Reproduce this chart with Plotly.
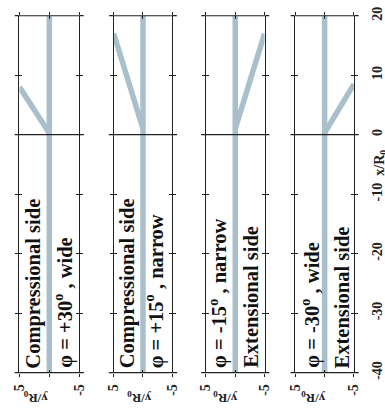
import plotly.graph_objects as go

W, H = 385, 419

# ---- data -------------------------------------------------------------
case_labels = ["φ = +30<sup>o</sup> , wide", "φ = +15<sup>o</sup> , narrow",
               "φ = -15<sup>o</sup> , narrow", "φ = -30<sup>o</sup> , wide"]
side_labels = ["Compressional side", "Compressional side",
               "Extensional side", "Extensional side"]

lateral_range = [5, -5]      # y/R0 (drawn horizontally, reversed)
axial_range = [-40, 20]      # x/R0 (drawn vertically)

centre_lat = 0               # main branch runs along y/R0 = 0
branch_lat_end = [5, 5, -5, -5]
branch_ax_start = [0.3, 1.0, 1.0, 0.3]
branch_ax_end = [8.0, 17.0, 17.0, 8.5]

axial_ticks = [20, 10, 0, -10, -20, -30, -40]
axial_tick_text = ["20", "10", "0", "-10", "-20", "-30", "-40"]
lateral_ticks = [5, 0, -5]
lateral_tick_text = ["5", "", "-5"]
frame_axial = [20, 0, -40]

# ---- layout helpers ---------------------------------------------------
panel_px = [(13, 75), (111, 172), (207, 268), (300, 361)]
top_px, bottom_px = 7, 378
ydom = [1 - bottom_px / H, 1 - top_px / H]
label_lat = [(2.65, -2.4), (2.7, -1.9), (2.9, -2.8), (2.4, -3.0)]
axis_title_px = [29, 137, 227, 318]

LINE = "#a9bfcb"
INK = "#222222"
FONT = "Liberation Serif"

fig = go.Figure()
layout = dict(width=W, height=H, margin=dict(l=0, r=0, t=0, b=0),
              paper_bgcolor="white", plot_bgcolor="white", showlegend=False)
shapes, annotations = [], []

for i in range(4):
    n = i + 1
    m = n + 4
    xa = "x" if n == 1 else f"x{n}"
    ya = "y" if n == 1 else f"y{n}"
    l, r = panel_px[i]

    fig.add_trace(go.Scatter(x=[centre_lat, centre_lat], y=axial_range, mode="lines",
                             line=dict(color=LINE, width=5.5), xaxis=xa, yaxis=ya,
                             hoverinfo="skip"))
    fig.add_trace(go.Scatter(x=[centre_lat, branch_lat_end[i]],
                             y=[branch_ax_start[i], branch_ax_end[i]], mode="lines",
                             line=dict(color=LINE, width=5.5), xaxis=xa, yaxis=ya,
                             hoverinfo="skip"))
    # carrier trace for the inner-tick overlay axes
    fig.add_trace(go.Scatter(x=[None], y=[None], mode="lines", xaxis=f"x{m}",
                             yaxis=f"y{m}", hoverinfo="skip"))

    tickfont = dict(family=FONT, size=14, color=INK, weight="bold")
    layout["xaxis" if n == 1 else f"xaxis{n}"] = dict(
        domain=[l / W, r / W], range=lateral_range, anchor=ya,
        tickmode="array", tickvals=lateral_ticks, ticktext=lateral_tick_text,
        tickangle=-90, ticks="outside", ticklen=3, tickcolor=INK, tickwidth=1.2,
        ticklabelstandoff=2, ticklabeloverflow="allow",
        mirror="ticks", showline=False, showgrid=False, zeroline=False,
        tickfont=tickfont, fixedrange=True)
    layout["yaxis" if n == 1 else f"yaxis{n}"] = dict(
        domain=ydom, range=axial_range, anchor=xa,
        side="right" if n == 4 else "left",
        tickmode="array", tickvals=axial_ticks, ticktext=axial_tick_text,
        showticklabels=(n == 4), tickangle=-90, ticklabelstandoff=7,
        ticklabeloverflow="allow",
        ticks="outside", ticklen=3, tickcolor=INK, tickwidth=1.2,
        mirror="ticks", showline=True, linecolor=INK, linewidth=1.2,
        showgrid=False, zeroline=False, tickfont=tickfont, fixedrange=True)
    layout[f"xaxis{m}"] = dict(
        overlaying=xa, range=lateral_range, anchor=f"y{m}",
        tickmode="array", tickvals=lateral_ticks, ticks="inside", ticklen=3,
        tickcolor=INK, tickwidth=1.2, mirror="ticks", showticklabels=False,
        showline=False, showgrid=False, zeroline=False, fixedrange=True)
    layout[f"yaxis{m}"] = dict(
        overlaying=ya, range=axial_range, anchor=f"x{m}",
        tickmode="array", tickvals=axial_ticks, ticks="inside", ticklen=3,
        tickcolor=INK, tickwidth=1.2, mirror="ticks", showticklabels=False,
        showline=False, showgrid=False, zeroline=False, fixedrange=True)

    # frame lines across the panel, running slightly past its sides
    ext = 5 / (r - l)
    for v in frame_axial:
        fy = (v - axial_range[0]) / (axial_range[1] - axial_range[0])
        shapes.append(dict(type="line", xref=f"{xa} domain", yref=f"{ya} domain",
                           x0=-ext, x1=1 + ext, y0=fy, y1=fy,
                           line=dict(color=INK, width=1.2), layer="above"))

    # rotated panel labels
    if n <= 2:
        texts = [side_labels[i], case_labels[i]]
    else:
        texts = [case_labels[i], side_labels[i]]
    for txt, lat in zip(texts, label_lat[i]):
        annotations.append(dict(text=txt, x=lat, y=-39.6, xref=xa, yref=ya,
                                xanchor="center", yanchor="bottom", textangle=-90,
                                showarrow=False,
                                font=dict(family=FONT, size=20.5, color="#111111",
                                          weight="bold")))
    annotations.append(dict(text="y/R<sub>0</sub>", x=axis_title_px[i] / W,
                            y=1 - 404 / H, xref="paper", yref="paper",
                            xanchor="center", yanchor="middle", textangle=180,
                            showarrow=False,
                            font=dict(family=FONT, size=13, color=INK, weight="bold")))

annotations.append(dict(text="x/R<sub>0</sub>", x=378 / W, y=1 - 160 / H,
                        xref="paper", yref="paper", xanchor="left", yanchor="middle",
                        textangle=-90, showarrow=False,
                        font=dict(family=FONT, size=14, color=INK, weight="bold")))

layout["shapes"] = shapes
layout["annotations"] = annotations
fig.update_layout(**layout)
fig.write_html("out.html")
